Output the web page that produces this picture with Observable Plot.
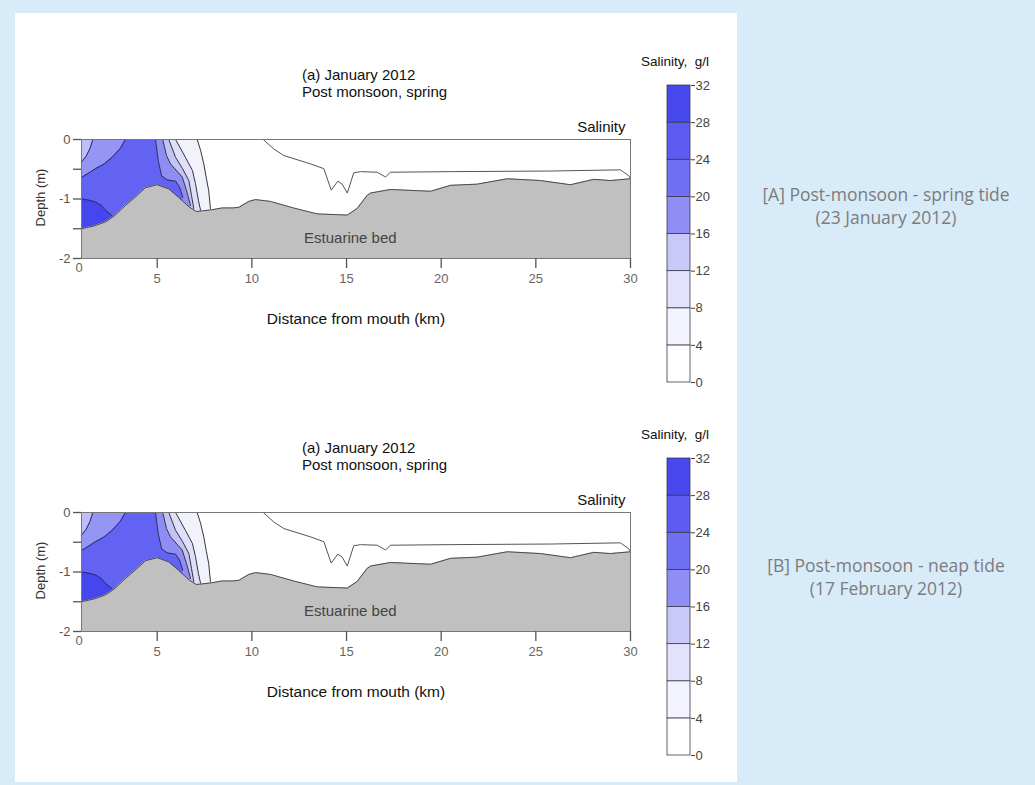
<!DOCTYPE html>
<html><head><meta charset="utf-8">
<script src="https://cdn.jsdelivr.net/npm/d3@7"></script>
<script src="https://cdn.jsdelivr.net/npm/@observablehq/plot@0.6"></script>
<style>
body{margin:0;background:#d8ebf9;}
#page{position:relative;width:1035px;height:785px;background:#d8ebf9;overflow:hidden;font-family:"Liberation Sans",Arial,sans-serif;}
#panel{position:absolute;left:15px;top:13px;width:722px;height:769px;background:#fff;}
.abs{position:absolute;white-space:nowrap;}
.side{position:absolute;left:737px;width:298px;text-align:center;font-family:"Open Sans",sans-serif;font-weight:400;font-size:17.5px;color:#7c7c7c;line-height:23px;}
</style></head>
<body><div id="page"><div id="panel"></div></div>
<script>
// ---- data (km from mouth, depth m) ----
const xTicks = [5, 10, 15, 20, 25, 30];
const yTicks = [-2, -1.5, -1, -0.5, 0];
const legendTicks = [0, 4, 8, 12, 16, 20, 24, 28, 32];
const legendColors = ["#ffffff","#f4f4fe","#e2e2fc","#c8c8f9","#8e8ef4","#7070f4","#5c5cf3","#4848ef"];

const bed = [[1.0,-1.50],[1.7,-1.45],[2.3,-1.38],[2.71,-1.29],[3.32,-1.11],[3.94,-0.94],[4.38,-0.81],[5.0,-0.76],[5.61,-0.83],[6.12,-0.97],[6.67,-1.13],[7.06,-1.21],[7.38,-1.20],[7.9,-1.18],[8.43,-1.15],[9.0,-1.15],[9.31,-1.14],[9.84,-1.04],[10.19,-1.01],[10.98,-1.04],[12.2,-1.15],[13.45,-1.25],[15.04,-1.27],[15.56,-1.16],[16.09,-0.94],[16.27,-0.90],[17.32,-0.84],[19.44,-0.87],[20.5,-0.77],[21.9,-0.75],[23.49,-0.66],[25.25,-0.69],[26.83,-0.76],[28.06,-0.67],[28.94,-0.69],[30,-0.66]];

const freshLine = [[10.6,0],[11.16,-0.16],[11.69,-0.27],[13.1,-0.41],[13.8,-0.49],[14.19,-0.85],[14.54,-0.70],[14.77,-0.75],[15.04,-0.90],[15.38,-0.56],[15.74,-0.54],[16.62,-0.55],[17.06,-0.63],[17.32,-0.55],[20.5,-0.54],[25.77,-0.53],[29.47,-0.51],[29.91,-0.61],[30,-0.66]];

const lineA = [[4.91,0],[5.05,-0.35],[5.23,-0.61],[5.53,-0.68],[5.97,-0.70],[6.18,-0.80],[6.35,-0.97]];
const lineB = [[5.29,0],[5.49,-0.27],[5.70,-0.41],[6.32,-0.63],[6.55,-0.86],[6.76,-1.11]];
const lineC = [[5.61,0],[5.97,-0.30],[6.34,-0.49],[6.67,-0.69],[6.81,-0.94],[6.93,-1.16]];
const lineD = [[5.97,0],[6.49,-0.30],[6.86,-0.52],[7.02,-0.74],[7.18,-1.03],[7.29,-1.19]];
const lineE = [[7.11,0],[7.29,-0.18],[7.46,-0.41],[7.60,-0.66],[7.72,-0.86],[7.81,-1.16]];
const arcCorner = [[1.6,0],[1.45,-0.15],[1.25,-0.28],[1.0,-0.38]];
const arcRing = [[3.32,0],[3.05,-0.15],[2.62,-0.30],[2.2,-0.41],[1.74,-0.49],[1.35,-0.57],[1.0,-0.64]];
const arcDeep = [[1.0,-1.0],[1.4,-1.02],[1.74,-1.05],[2.05,-1.11],[2.27,-1.19],[2.5,-1.25],[2.75,-1.32]];

const regionColors = {E:"#f2f2fd", D:"#dfdffb", C:"#c3c3f8", B:"#8d8df4", A:"#6262f3", ring:"#9595f5", corner:"#bebef8", deep:"#4646ee"};

const xDomain = [1, 30];
const ext = arr => [...arr, [arr[arr.length-1][0], -2]];
const X = d => d[0], Y = d => d[1];
const font = '"Liberation Sans", Arial, sans-serif';
const page = document.getElementById("page");

function addText(txt, left, top, size, color, extra = "") {
  const d = document.createElement("div");
  d.className = "abs";
  d.style.cssText = `left:${left}px;top:${top}px;font-size:${size}px;line-height:${size}px;color:${color};${extra}`;
  d.textContent = txt;
  page.appendChild(d);
  return d;
}

function chart(top) {
  const fillX = (arr, fill) => Plot.areaX(ext(arr), {y: Y, x1: xDomain[0], x2: X, fill});
  const stroke = (arr, c = "#333") => Plot.line(arr, {x: X, y: Y, stroke: c, strokeWidth: 1});
  const svg = Plot.plot({
    width: 660, height: 340,
    marginLeft: 81, marginRight: 30, marginTop: 139, marginBottom: 82,
    x: {domain: xDomain, axis: null},
    y: {domain: [-2, 0], axis: null},
    style: {fontFamily: font, fontSize: "13px", color: "#555", background: "transparent", overflow: "visible"},
    marks: [
      fillX(lineE, regionColors.E),
      fillX(lineD, regionColors.D),
      fillX(lineC, regionColors.C),
      fillX(lineB, regionColors.B),
      fillX(lineA, regionColors.A),
      fillX(arcRing, regionColors.ring),
      fillX(arcCorner, regionColors.corner),
      Plot.areaY(arcDeep, {x: X, y1: Y, y2: -2, fill: regionColors.deep}),
      stroke(lineA, "#2a2a5c"), stroke(lineB), stroke(lineC), stroke(lineD), stroke(lineE),
      stroke(arcCorner, "#2a2a5c"), stroke(arcRing, "#2a2a5c"), stroke(arcDeep, "#2a2a5c"),
      stroke(freshLine, "#555"),
      Plot.areaY(bed, {x: X, y1: Y, y2: -2, fill: "#c0c0c0"}),
      Plot.line(bed, {x: X, y: Y, stroke: "#4a4a4a", strokeWidth: 1}),
      Plot.frame({stroke: "#777", strokeWidth: 1}),
      Plot.axisX({ticks: xTicks, tickSize: 10, tickPadding: 5, label: null, stroke: "#555", strokeWidth: 1.3, fill: "#666", fontSize: 13}),
      Plot.axisY({ticks: yTicks, tickSize: 8, tickPadding: 3, label: null, tickFormat: d => Number.isInteger(d) ? String(d) : "", stroke: "#555", strokeWidth: 1.3, fill: "#555", fontSize: 13}),
      Plot.text(["0"], {frameAnchor: "bottom-left", text: d => d, dx: -6, dy: 13, fill: "#666", fontSize: 13}),
      Plot.text(["Salinity"], {frameAnchor: "top-right", text: d => d, textAnchor: "end", lineAnchor: "bottom", dx: -5, dy: -8, fill: "#111", fontSize: 15}),
      Plot.text(["Estuarine bed"], {x: 15.2, y: -1.66, text: d => d, fill: "#444", fontSize: 15})
    ]
  });
  svg.style.position = "absolute";
  svg.style.left = "0px";
  svg.style.top = top + "px";
  page.appendChild(svg);

  addText("(a) January 2012", 302, top + 67, 15, "#111");
  addText("Post monsoon, spring", 302, top + 84, 15, "#111");
  addText("Distance from mouth (km)", 0, top + 311, 15.5, "#111", "width:712px;text-align:center;");
  addText("Depth (m)", 0, top + 198 - 7, 13, "#333", "width:80px;text-align:center;transform:rotate(-90deg);");

  const bands = legendColors.map((c, i) => ({lo: legendTicks[i], hi: legendTicks[i+1], c}));
  const leg = Plot.plot({
    width: 110, height: 400,
    marginLeft: 37, marginRight: 50, marginTop: 85, marginBottom: 18,
    x: {domain: [0, 1], axis: null},
    y: {domain: [0, 32], axis: null},
    style: {fontFamily: font, fontSize: "13px", color: "#444", background: "transparent", overflow: "visible"},
    marks: [
      Plot.rect(bands, {x1: 0, x2: 1, y1: "lo", y2: "hi", fill: "c", stroke: "#3a3a4a", strokeWidth: 0.8}),
      Plot.axisY({anchor: "right", ticks: legendTicks, tickSize: 4, tickPadding: 1, label: null, stroke: "#444", fill: "#444", fontSize: 13})
    ]
  });
  leg.style.position = "absolute";
  leg.style.left = "630px";
  leg.style.top = top + "px";
  page.appendChild(leg);
  addText("Salinity,  g/l", 641, top + 55, 13.5, "#111", "white-space:pre;");
}

chart(0);
chart(373);

const sA = document.createElement("div");
sA.className = "side"; sA.style.top = "183px";
sA.innerHTML = "[A] Post-monsoon - spring tide<br>(23 January 2012)";
page.appendChild(sA);
const sB = document.createElement("div");
sB.className = "side"; sB.style.top = "554px";
sB.innerHTML = "[B] Post-monsoon - neap tide<br>(17 February 2012)";
page.appendChild(sB);
</script>
</body></html>
